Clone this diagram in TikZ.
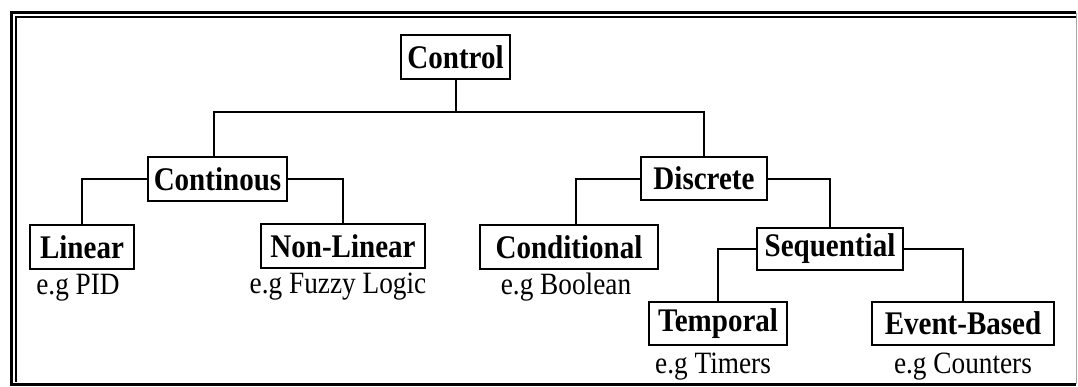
\documentclass[tikz,border=0pt]{standalone}
\usepackage{fontspec}
\setmainfont{Liberation Serif}
\newfontfamily\boxfont[FakeStretch=0.88]{Liberation Serif Bold}
\newfontfamily\egfont[FakeStretch=0.88]{Liberation Serif}
\begin{document}
\begin{tikzpicture}[x=1pt,y=-1pt,
  box/.style={draw=black,line width=2pt,inner sep=0pt,align=center,
    font=\fontsize{33}{34}\boxfont},
  eg/.style={inner sep=0pt,font=\fontsize{31}{32}\egfont},
  link/.style={draw=black,line width=2pt}]
\useasboundingbox (0,0) rectangle (1078,386);
% frame
\draw[line width=3pt] (1076,12.5) -- (11.5,12.5) -- (11.5,384) -- (1076,384);
\draw[line width=1.2pt] (16,382) -- (16,17) -- (1076,17);
\draw[line width=0.8pt,black!35] (1076,12.5) -- (1076,384);
% boxes
\node[box,minimum width=109pt,minimum height=44pt] (control) at (455.5,57) {Control};
\node[box,minimum width=139pt,minimum height=44pt] (cont) at (217.5,179) {Continous};
\node[box,minimum width=126pt,minimum height=43pt] (disc) at (704,178.5) {Discrete};
\node[box,minimum width=104pt,minimum height=44pt] (lin) at (82,247) {Linear};
\node[box,minimum width=164pt,minimum height=44pt] (nonlin) at (343,246) {Non-Linear};
\node[box,minimum width=178pt,minimum height=44pt] (cond) at (569,247) {Conditional};
\node[box,minimum width=146pt,minimum height=42pt] (seq) at (830,249) {Sequential};
\node[box,minimum width=138pt,minimum height=43pt] (temp) at (718,323.5) {Temporal};
\node[box,minimum width=182pt,minimum height=43pt] (event) at (963,323.5) {Event-Based};
% examples
\node[eg] (egpid) at (78,288) {e.g PID};
\node[eg] (egfuzzy) at (338,287) {e.g Fuzzy Logic};
\node[eg] (egbool) at (566,287) {e.g Boolean};
\node[eg] (egtimer) at (713,367) {e.g Timers};
\node[eg] (egcount) at (963,367) {e.g Counters};
% connectors
\coordinate (bus) at (455.5,112);
\draw[link] (control.south) -- (bus);
\draw[link] ([xshift=-3.5pt]cont.north) |- (bus) -| (disc.north);
\draw[link] (cont.west) -| (lin.north);
\draw[link] (cont.east) -| (nonlin.north);
\draw[link] (disc.west) -| ([xshift=7pt]cond.north);
\draw[link] (disc.east) -| (seq.north);
\draw[link] (seq.west) -| (temp.north);
\draw[link] (seq.east) -| (event.north);
\end{tikzpicture}
\end{document}
